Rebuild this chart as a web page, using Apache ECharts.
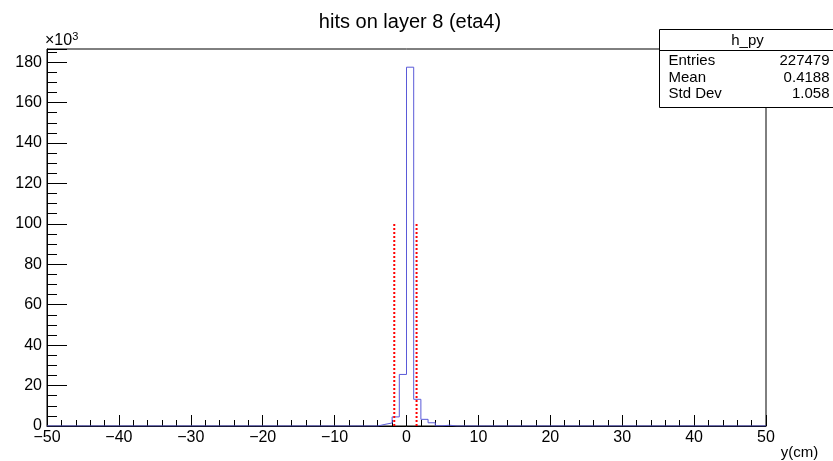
<!DOCTYPE html>
<html>
<head>
<meta charset="utf-8">
<script src="https://cdn.jsdelivr.net/npm/echarts@6/dist/echarts.min.js"></script>
<style>html,body{margin:0;padding:0;background:#fff;}#c{width:833px;height:461px;}</style>
</head>
<body>
<div id="c"></div>
<script>
// ---- data (values in units of 10^3 entries) ----
var titleText = "hits on layer 8 (eta4)";
var xTitle = "y(cm)";
var histName = "h_py";
var statLabels = ["Entries", "Mean", "Std Dev"];
var statValues = ["227479", "0.4188", "1.058"];
var xMin = -50, xMax = 50, binWidth = 1;
var yMax = 186.5;
// 100 bins from -50 to 50
var counts = [
  0,0,0,0,0,0,0,0,0,0,   // -50..-40
  0,0,0,0,0,0,0,0,0,0,   // -40..-30
  0,0,0,0,0,0,0,0,0,0,   // -30..-20
  0,0,0,0,0,0,0,0,0,0,   // -20..-10
  0,0,0,0,0,0,0.8,1.5,4.5,25.5, // -10..0
  177.5,13.2,3.3,1.6,0.1,0.4,0,0,0,0, // 0..10
  0,0,0,0,0,0,0,0,0,0,   // 10..20
  0,0,0,0,0,0,0,0,0,0,   // 20..30
  0,0,0,0,0,0,0,0,0,0,   // 30..40
  0,0,0,0,0,0,0,0,0,0    // 40..50
];
var cutPositions = [-1.7, 1.4];
var cutHeight = 100;

// ---- build series ----
var stepData = [];
for (var i = 0; i < counts.length; i++) {
  stepData.push([xMin + i * binWidth, counts[i]]);
}
stepData.push([xMin + counts.length * binWidth, counts[counts.length - 1]]);

var series = [{
  type: 'line',
  step: 'end',
  data: stepData,
  showSymbol: false,
  symbol: 'none',
  lineStyle: {color: '#5a5ad8', width: 1},
  z: 3
}];
cutPositions.forEach(function (p) {
  series.push({
    type: 'line',
    data: [[p, 0], [p, cutHeight]],
    showSymbol: false,
    symbol: 'none',
    lineStyle: {color: '#ff0000', width: 2, type: [2, 2]},
    z: 4
  });
});

var font = 'Liberation Sans, Arial, Helvetica, sans-serif';
var chart = echarts.init(document.getElementById('c'), null, {renderer: 'canvas'});
chart.setOption({
  animation: false,
  backgroundColor: '#fff',
  title: {
    text: titleText,
    left: 405, top: 7, textAlign: 'center',
    textStyle: {fontFamily: font, fontSize: 20, fontWeight: 'normal', color: '#000'}
  },
  grid: {
    left: 47, right: 67, top: 49, bottom: 35,
    show: true, borderColor: '#000', borderWidth: 1, backgroundColor: 'transparent'
  },
  xAxis: {
    type: 'value', min: xMin, max: xMax, interval: 10,
    name: xTitle, nameLocation: 'end', nameGap: 0,
    nameTextStyle: {fontFamily: font, fontSize: 15, color: '#000', align: 'right', verticalAlign: 'top', padding: [19, 0, 0, 0]},
    axisLine: {show: true, onZero: false, lineStyle: {color: '#000', width: 1}},
    axisTick: {show: true, inside: true, length: 11, lineStyle: {color: '#000'}},
    minorTick: {show: true, splitNumber: 5, length: 6, lineStyle: {color: '#000'}},
    splitLine: {show: false},
    axisLabel: {
      fontFamily: font, fontSize: 16, color: '#000', margin: 4,
      formatter: function (v) { return String(v).replace('-', '\u2212'); }
    }
  },
  yAxis: {
    type: 'value', min: 0, max: yMax, interval: 20,
    axisLine: {show: true, onZero: false, lineStyle: {color: '#000', width: 1}},
    axisTick: {show: true, inside: true, length: 20, lineStyle: {color: '#000'}},
    minorTick: {show: true, splitNumber: 4, length: 10, lineStyle: {color: '#000'}},
    splitLine: {show: false},
    axisLabel: {
      fontFamily: font, fontSize: 16, color: '#000', margin: 5,
      showMaxLabel: false,
      formatter: function (v) { return (v % 20 === 0) ? String(v) : ''; }
    }
  },
  series: series,
  graphic: [
    {
      type: 'text', left: 45, top: 31, z: 10,
      style: {
        text: '×10{s|3}', fontFamily: font, fontSize: 16, fill: '#000',
        rich: {s: {fontSize: 11, verticalAlign: 'top', fontFamily: font, padding: [0, 0, 9, 0]}}
      }
    },
    {
      type: 'group', left: 657, top: 29, z: 20,
      children: [
        {type: 'rect', shape: {x: 0, y: 0, width: 175, height: 78}, style: {fill: '#fff', stroke: '#000', lineWidth: 1}},
        {type: 'line', shape: {x1: 0, y1: 21, x2: 175, y2: 21}, style: {stroke: '#000', lineWidth: 1}},
        {type: 'text', x: 88, y: 11, style: {text: histName, fontFamily: font, fontSize: 15, fill: '#000', align: 'center', verticalAlign: 'middle'}},
        {type: 'text', x: 9, y: 31, style: {text: statLabels[0], fontFamily: font, fontSize: 15, fill: '#000', align: 'left', verticalAlign: 'middle'}},
        {type: 'text', x: 9, y: 48, style: {text: statLabels[1], fontFamily: font, fontSize: 15, fill: '#000', align: 'left', verticalAlign: 'middle'}},
        {type: 'text', x: 9, y: 64, style: {text: statLabels[2], fontFamily: font, fontSize: 15, fill: '#000', align: 'left', verticalAlign: 'middle'}},
        {type: 'text', x: 170, y: 31, style: {text: statValues[0], fontFamily: font, fontSize: 15, fill: '#000', align: 'right', verticalAlign: 'middle'}},
        {type: 'text', x: 170, y: 48, style: {text: statValues[1], fontFamily: font, fontSize: 15, fill: '#000', align: 'right', verticalAlign: 'middle'}},
        {type: 'text', x: 170, y: 64, style: {text: statValues[2], fontFamily: font, fontSize: 15, fill: '#000', align: 'right', verticalAlign: 'middle'}}
      ]
    }
  ]
});
</script>
</body>
</html>
